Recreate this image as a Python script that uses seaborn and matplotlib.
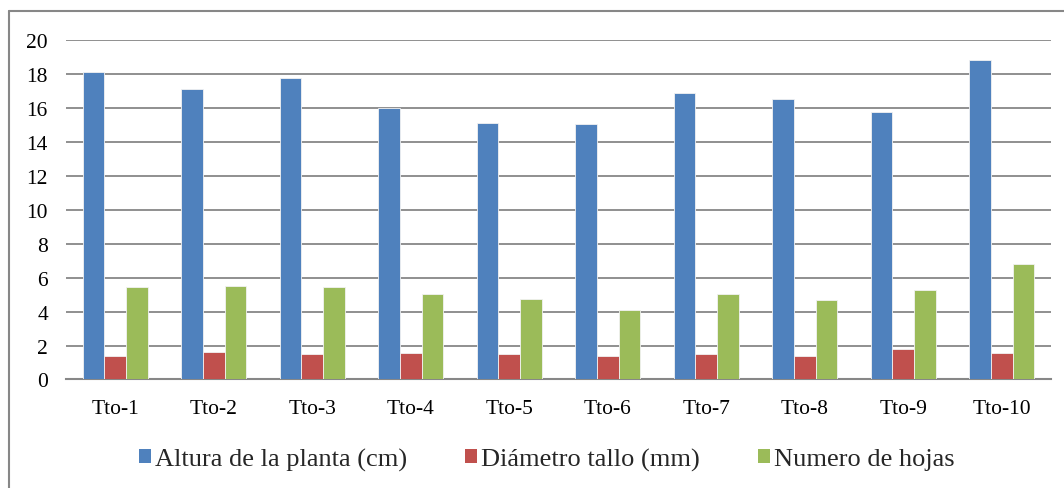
import matplotlib
matplotlib.use("Agg")
import matplotlib.pyplot as plt
from matplotlib.lines import Line2D
from matplotlib.patches import Patch
import pandas as pd
import seaborn as sns

# datos
tratamientos = ["Tto-1", "Tto-2", "Tto-3", "Tto-4", "Tto-5",
                "Tto-6", "Tto-7", "Tto-8", "Tto-9", "Tto-10"]
altura = [18.1, 17.13, 17.76, 16.0, 15.08, 15.07, 16.85, 16.51, 15.77, 18.84]
diametro = [1.38, 1.63, 1.52, 1.56, 1.52, 1.40, 1.52, 1.38, 1.77, 1.56]
hojas = [5.43, 5.51, 5.43, 5.02, 4.74, 4.09, 5.02, 4.66, 5.25, 6.78]
series = ["Altura de la planta (cm)", "Diámetro tallo (mm)", "Numero de hojas"]
colores = ["#4F81BD", "#C0504D", "#9BBB59"]

df = pd.DataFrame({
    "tto": tratamientos * 3,
    "valor": altura + diametro + hojas,
    "serie": [series[0]] * 10 + [series[1]] * 10 + [series[2]] * 10,
})

sns.set_style("white")
plt.rcParams['font.family'] = ['Liberation Serif', 'DejaVu Serif']

fig = plt.figure(figsize=(10.64, 4.89), dpi=100)
ax = fig.add_axes([0.062, 0.2219, 0.9258, 0.6943])

sns.barplot(data=df, x="tto", y="valor", hue="serie", palette=colores,
            saturation=1, width=0.66, gap=0, edgecolor="#f2f2f2", linewidth=0.6,
            ax=ax, legend=False, zorder=3)

ax.set_ylim(0, 20)
ax.set_yticks(range(0, 21, 2))
ax.set_xlim(-0.5, 9.5)
ax.yaxis.grid(True, color="#878787", linewidth=1.3, zorder=0)
ax.set_axisbelow(True)
for s in ["top", "right", "left"]:
    ax.spines[s].set_visible(False)
ax.spines["bottom"].set_color("#878787")
ax.spines["bottom"].set_linewidth(1.5)
ax.tick_params(axis="both", length=0, labelsize=15.5, colors="black")
ax.tick_params(axis="y", pad=13)
ax.tick_params(axis="x", pad=14)
ax.set_xlabel("")
ax.set_ylabel("")

handles = [Patch(facecolor=c, edgecolor="none") for c in colores]
fig.legend(handles, series, loc="center", bbox_to_anchor=(0.514, 0.059), ncol=3,
           frameon=False, fontsize=19, handlelength=0.45, handleheight=0.45,
           handletextpad=0.15, columnspacing=2.2)

# borde del area del grafico
fig.add_artist(Line2D([9 / 1064, 1.0], [1 - 12 / 489, 1 - 12 / 489],
                      color="#878787", linewidth=1.5, transform=fig.transFigure))
fig.add_artist(Line2D([9 / 1064, 9 / 1064], [0.0, 1 - 12 / 489],
                      color="#878787", linewidth=1.5, transform=fig.transFigure))

fig.savefig("out.png", dpi=100)
